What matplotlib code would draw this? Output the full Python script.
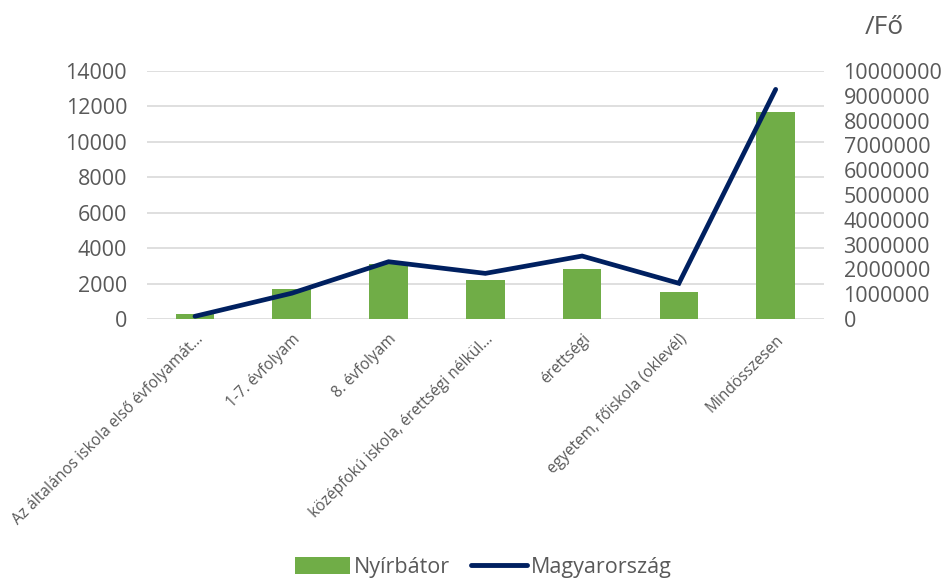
import numpy as np
import matplotlib
matplotlib.use("Agg")
import matplotlib.pyplot as plt
from matplotlib.patches import Patch
from matplotlib.lines import Line2D

plt.rcParams['font.family'] = ['Open Sans', 'DejaVu Sans']

categories = ["Az általános iskola első évfolyamát…", "1-7. évfolyam", "8. évfolyam",
              "középfokú iskola, érettségi nélkül…", "érettségi",
              "egyetem, főiskola (oklevél)", "Mindösszesen"]
nyirbator = [300, 1700, 3100, 2200, 2850, 1550, 11700]
magyarorszag = [110000, 1040000, 2310000, 1840000, 2540000, 1440000, 9260000]

left_ticks = np.arange(0, 14001, 2000)
right_ticks = np.arange(0, 10000001, 1000000)

bar_color = '#70AD47'
line_color = '#002060'
text_color = '#595959'
grid_color = '#D9D9D9'

fig = plt.figure(figsize=(9.47, 5.83), dpi=100)
ax = fig.add_axes([0.1548, 0.4528, 0.7154, 0.4254])
ax2 = ax.twinx()

x = np.arange(len(categories))
ax.bar(x, nyirbator, width=0.4, color=bar_color, zorder=2)
ax2.plot(x, magyarorszag, color=line_color, lw=3.4, solid_capstyle='round',
         solid_joinstyle='miter', zorder=3)

ax.set_xlim(-0.5, len(categories) - 0.5)
ax.set_ylim(0, 14000)
ax2.set_ylim(0, 10000000)
ax.set_yticks(left_ticks)
ax2.set_yticks(right_ticks)
ax.set_yticklabels([str(v) for v in left_ticks])
ax2.set_yticklabels([str(v) for v in right_ticks])

ax.grid(axis='y', color=grid_color, lw=1.2, zorder=0)
ax.set_axisbelow(True)
for a in (ax, ax2):
    for s in a.spines.values():
        s.set_visible(False)
    a.tick_params(axis='both', length=0, colors=text_color, labelsize=15.5)
ax.tick_params(axis='y', pad=14)
ax2.tick_params(axis='y', pad=14)

ax.set_xticks(x)
ax.set_xticklabels(categories, rotation=45, ha='right', va='top',
                   rotation_mode='anchor', fontsize=11.2, color=text_color)
ax.tick_params(axis='x', pad=9)

fig.text(0.934, 0.952, "/Fő", ha='center', va='center', fontsize=19, color=text_color)

handles = [Patch(facecolor=bar_color, edgecolor='none'),
           Line2D([0], [0], color=line_color, lw=3.5, solid_capstyle='round')]
fig.legend(handles, ["Nyírbátor", "Magyarország"], loc='lower center',
           bbox_to_anchor=(0.51, -0.025), ncol=2, frameon=False, fontsize=15.5,
           labelcolor=text_color, handlelength=2.6, handletextpad=0.15,
           columnspacing=1.0, handleheight=0.8)

fig.savefig("out.png", dpi=100)
